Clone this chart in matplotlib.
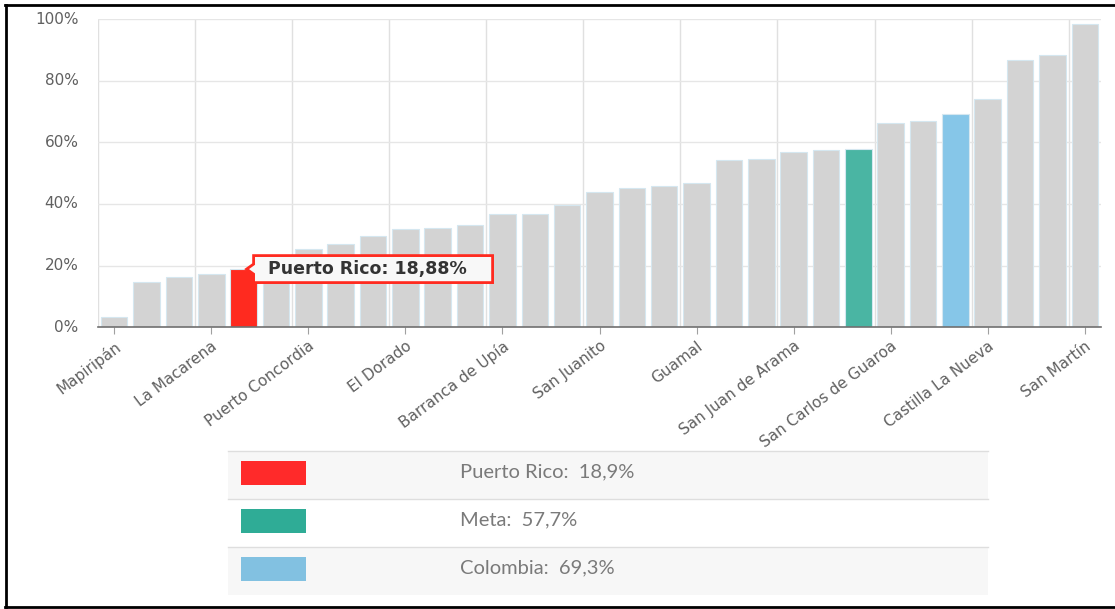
import matplotlib
matplotlib.use('Agg')
import matplotlib.pyplot as plt
from matplotlib.patches import Polygon, Rectangle
from matplotlib.lines import Line2D
from matplotlib.transforms import IdentityTransform

# values (percent)
values = [3.4, 14.8, 16.4, 17.2, 18.88, 21.0, 25.3, 27.0, 29.6, 31.8,
          32.2, 33.3, 36.6, 36.6, 39.6, 43.9, 45.1, 45.9, 46.9, 54.3,
          54.7, 56.9, 57.6, 57.7, 66.2, 66.9, 69.3, 74.0, 86.8, 88.3, 98.4]
tick_labels = ['Mapiripán', 'La Macarena', 'Puerto Concordia', 'El Dorado',
               'Barranca de Upía', 'San Juanito', 'Guamal', 'San Juan de Arama',
               'San Carlos de Guaroa', 'Castilla La Nueva', 'San Martín']
highlight = {4: '#ff2a1f', 23: '#4ab5a3', 26: '#86c6e8'}

legend_labels = ['Puerto Rico', 'Meta', 'Colombia']
legend_values = [18.9, 57.7, 69.3]
legend_colors = ['#ff2a2a', '#2fac96', '#82c1e1']

tooltip_idx = 4
tooltip_name = 'Puerto Rico'

W, H = 1115, 609
fig = plt.figure(figsize=(W / 100, H / 100), dpi=100)
fig.patch.set_facecolor('white')

def fx(x):
    return x / W

def fy(y):
    return 1 - y / H

ax = fig.add_axes([fx(98), fy(327.3), fx(1101) - fx(98), fy(19) - fy(327.3)])

x = list(range(len(values)))
colors = [highlight.get(i, '#d3d3d3') for i in x]
ax.bar(x, values, width=0.82, color=colors, edgecolor='#d5e7f0', linewidth=0.8, zorder=3)

ax.set_xlim(-0.5, len(values) - 0.5)
ax.set_ylim(0, 100)
ax.set_yticks(range(0, 101, 20))
ax.set_yticklabels([f'{v}%' for v in range(0, 101, 20)])
ax.set_xticks(range(0, len(values), 3))
ax.set_xticklabels(tick_labels, rotation=37, ha='right', rotation_mode='anchor')
ax.set_xticks([i - 0.5 for i in range(0, len(values), 3)], minor=True)

ax.grid(axis='y', color='#e6e6e6', linewidth=1, zorder=0)
ax.grid(axis='x', which='minor', color='#e0e0e0', linewidth=1, zorder=0)
ax.grid(axis='x', which='major', visible=False)
for s in ['top', 'right', 'left']:
    ax.spines[s].set_visible(False)
ax.spines['bottom'].set_color('#707070')
ax.spines['bottom'].set_linewidth(1.2)
ax.spines['bottom'].set_zorder(4)
ax.tick_params(axis='y', length=0, labelsize=11, labelcolor='#606060', pad=14)
ax.tick_params(axis='x', which='major', length=5, color='#a0a0a0', labelsize=11,
               labelcolor='#606060', pad=3)
ax.tick_params(axis='x', which='minor', length=0)
for lbl in ax.get_yticklabels():
    lbl.set_verticalalignment('center')

# tooltip on the highlighted bar
tx, ty = ax.transData.transform((tooltip_idx, values[tooltip_idx]))
tx += 3
L, R, h = tx + 7, tx + 246, 13.5
tip = Polygon([(tx, ty), (L, ty + 5), (L, ty + h), (R, ty + h), (R, ty - h),
               (L, ty - h), (L, ty - 5)], closed=True, transform=IdentityTransform(),
              facecolor='#f8f8f8', edgecolor='#ff2a1f', linewidth=2, zorder=10)
fig.add_artist(tip)
fig.text(L + 14, ty, f'{tooltip_name}: {values[tooltip_idx]:.2f}%'.replace('.', ','),
         transform=IdentityTransform(), ha='left', va='center', fontsize=12.5,
         fontweight='bold', color='#333333', zorder=11)

# legend table
row_h = 48
top = 451
for i, (lab, val, col) in enumerate(zip(legend_labels, legend_values, legend_colors)):
    y0 = top + i * row_h
    bg = '#f7f7f7' if i % 2 == 0 else '#ffffff'
    fig.add_artist(Rectangle((fx(228), fy(y0 + row_h)), fx(988) - fx(228), row_h / H,
                             transform=fig.transFigure, facecolor=bg, edgecolor='none'))
    fig.add_artist(Line2D([fx(228), fx(988)], [fy(y0), fy(y0)], transform=fig.transFigure,
                          color='#dedede', linewidth=1))
    fig.add_artist(Rectangle((fx(241), fy(y0 + 34)), fx(306) - fx(241), 24 / H,
                             transform=fig.transFigure, facecolor=col, edgecolor='none'))
    fig.text(fx(460), fy(y0 + 21), f'{lab}:  {val:.1f}%'.replace('.', ','),
             ha='left', va='center', fontsize=14.5, color='#7a7a7a',
             family=['Lato', 'DejaVu Sans'])

# outer frame
fig.add_artist(Line2D([fx(5), fx(1115)], [fy(5), fy(5)], transform=fig.transFigure,
                      color='black', linewidth=2))
fig.add_artist(Line2D([fx(6), fx(6)], [fy(5), fy(607)], transform=fig.transFigure,
                      color='black', linewidth=2))
fig.add_artist(Line2D([fx(5), fx(1115)], [fy(607), fy(607)], transform=fig.transFigure,
                      color='black', linewidth=2))

fig.savefig('out.png', dpi=100)
